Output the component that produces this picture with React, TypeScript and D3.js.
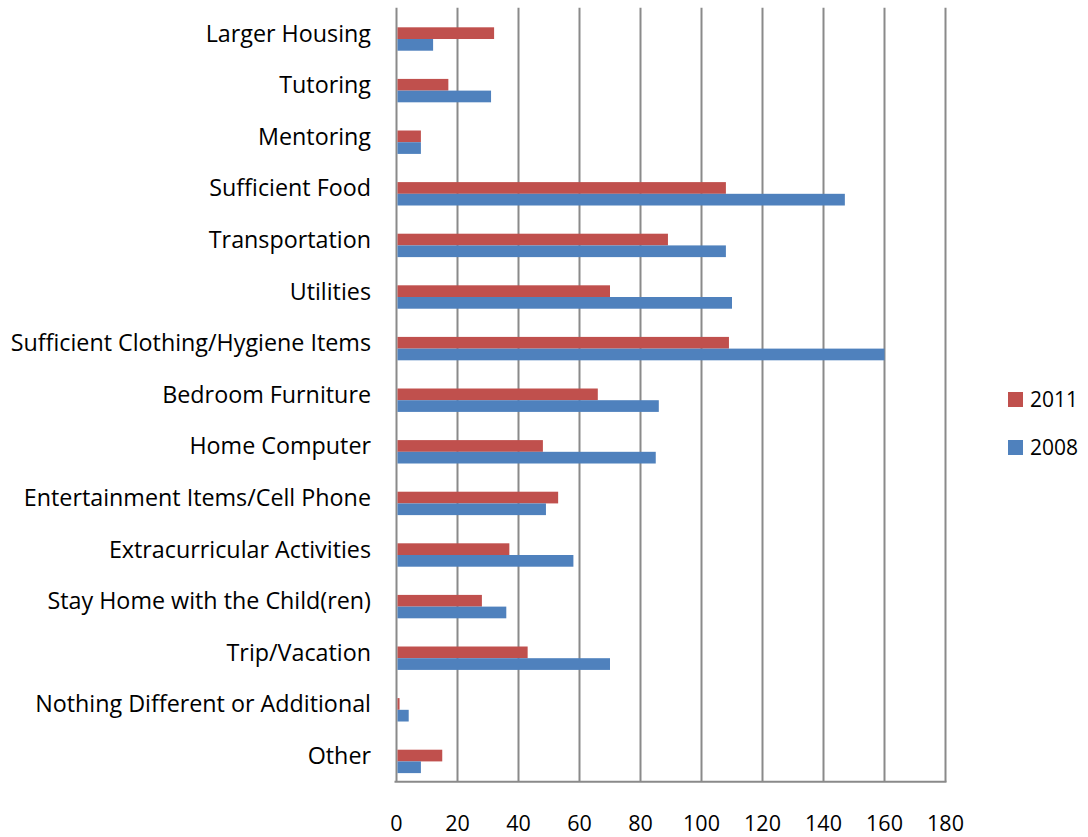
import React, { useEffect, useRef } from 'react';
import * as d3 from 'd3';

// Data
const categories = [
    'Larger Housing',
    'Tutoring',
    'Mentoring',
    'Sufficient Food',
    'Transportation',
    'Utilities',
    'Sufficient Clothing/Hygiene Items',
    'Bedroom Furniture',
    'Home Computer',
    'Entertainment Items/Cell Phone',
    'Extracurricular Activities',
    'Stay Home with the Child(ren)',
    'Trip/Vacation',
    'Nothing Different or Additional',
    'Other'
];
const values2011 = [32, 17, 8, 108, 89, 70, 109, 66, 48, 53, 37, 28, 43, 1, 15];
const values2008 = [12, 31, 8, 147, 108, 110, 160, 86, 85, 49, 58, 36, 70, 4, 8];
const seriesNames = ['2011', '2008'];
const xTicks = [0, 20, 40, 60, 80, 100, 120, 140, 160, 180];

export default function App() {
    const ref = useRef<SVGSVGElement | null>(null);

    useEffect(() => {
        const svg = d3.select(ref.current);
        svg.selectAll('*').remove();

        const width = 1088;
        const height = 837;
        const left = 396.5;
        const right = 945.5;
        const top = 7.7;
        const bottom = 781.7;
        const font = '"Open Sans", Lato, sans-serif';
        const colors = ['#C0504D', '#4F81BD'];
        const series = [values2011, values2008];

        svg.attr('width', width).attr('height', height);

        const x = d3.scaleLinear().domain([0, 180]).range([left, right]);
        const y = d3.scaleBand<string>().domain(categories).range([top, bottom]);
        const bw = y.bandwidth();
        const inner = d3.scaleBand<string>()
            .domain(seriesNames)
            .range([bw * 0.38, bw * 0.38 + 23.4]);

        // gridlines
        svg.append('g')
            .selectAll('line')
            .data(xTicks)
            .enter().append('line')
            .attr('x1', d => x(d))
            .attr('x2', d => x(d))
            .attr('y1', top)
            .attr('y2', bottom)
            .attr('stroke', '#8a8a8a')
            .attr('stroke-width', 2);

        // bottom axis line
        svg.append('line')
            .attr('x1', left - 2)
            .attr('x2', right + 1)
            .attr('y1', bottom)
            .attr('y2', bottom)
            .attr('stroke', '#8a8a8a')
            .attr('stroke-width', 2);

        // bars
        seriesNames.forEach((name, i) => {
            svg.append('g')
                .selectAll('rect')
                .data(categories.map((c, j) => ({ c, v: series[i][j] })))
                .enter().append('rect')
                .attr('x', x(0) + 1)
                .attr('y', d => (y(d.c) as number) + (inner(name) as number))
                .attr('width', d => Math.max(0, x(d.v) - x(0) - 1))
                .attr('height', inner.bandwidth())
                .attr('fill', colors[i]);
        });

        // category labels
        svg.append('g')
            .selectAll('text')
            .data(categories)
            .enter().append('text')
            .attr('x', 371)
            .attr('y', d => (y(d) as number) + bw / 2 + 8)
            .attr('text-anchor', 'end')
            .style('font-family', font)
            .style('font-size', '23.3px')
            .style('fill', '#000')
            .text(d => d);

        // tick labels
        svg.append('g')
            .selectAll('text')
            .data(xTicks)
            .enter().append('text')
            .attr('x', d => x(d))
            .attr('y', 831)
            .attr('text-anchor', 'middle')
            .style('font-family', font)
            .style('font-size', '21.5px')
            .style('fill', '#000')
            .text(d => d);

        // legend
        const legend = svg.append('g')
            .selectAll('g')
            .data(seriesNames)
            .enter().append('g')
            .attr('transform', (d, i) => 'translate(1008,' + (392 + i * 48) + ')');
        legend.append('rect')
            .attr('width', 15)
            .attr('height', 15)
            .attr('fill', (d, i) => colors[i]);
        legend.append('text')
            .attr('x', 22)
            .attr('y', 15)
            .style('font-family', font)
            .style('font-size', '21px')
            .style('fill', '#000')
            .text(d => d);
    }, []);

    return (
        <svg ref={ref} style={{ position: 'absolute', left: 0, top: 0, background: '#fff' }}></svg>
    );
}
